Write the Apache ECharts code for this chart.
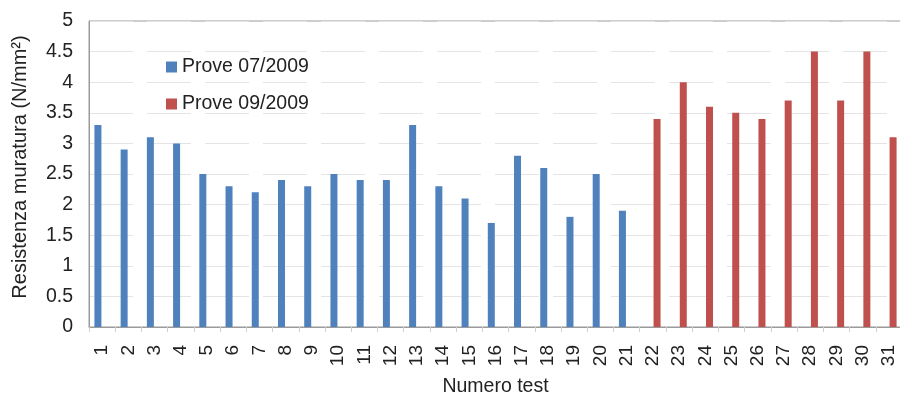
<!DOCTYPE html>
<html><head><meta charset="utf-8">
<script src="https://cdn.jsdelivr.net/npm/echarts@6/dist/echarts.min.js"></script>
<style>html,body{margin:0;padding:0;background:#fff}#c{width:900px;height:394px}</style>
</head><body><div id="c"></div>
<script>
var categories = ['1','2','3','4','5','6','7','8','9','10','11','12','13','14','15','16','17','18','19','20','21','22','23','24','25','26','27','28','29','30','31'];
var prove07 = [3.3,2.9,3.1,3.0,2.5,2.3,2.2,2.4,2.3,2.5,2.4,2.4,3.3,2.3,2.1,1.7,2.8,2.6,1.8,2.5,1.9,null,null,null,null,null,null,null,null,null,null];
var prove09 = [null,null,null,null,null,null,null,null,null,null,null,null,null,null,null,null,null,null,null,null,null,3.4,4.0,3.6,3.5,3.4,3.7,4.5,3.7,4.5,3.1];
var yTicks = {min:0, max:5, interval:0.5};

var chart = echarts.init(document.getElementById('c'));
var font = 'Liberation Sans, Arial, sans-serif';
chart.setOption({
  animation:false,
  grid:{left:89, top:21, width:813, height:306, outerBoundsMode:'none', containLabel:false,
    show:true, borderColor:'#9a9a9a', borderWidth:1, backgroundColor:'transparent'},
  legend:{orient:'vertical', left:161, top:52, itemWidth:11, itemHeight:11, itemGap:17,
    textStyle:{fontFamily:font, fontSize:19.5, color:'#222'},
    data:[{name:'Prove 07/2009', icon:'rect'},{name:'Prove 09/2009', icon:'rect'}]},
  xAxis:{type:'category', data:categories,
    name:'Numero test', nameLocation:'middle', nameGap:50,
    nameTextStyle:{fontFamily:font, fontSize:19.5, color:'#222', verticalAlign:'top'},
    axisLine:{lineStyle:{color:'#9a9a9a'}},
    axisTick:{show:true, length:5, lineStyle:{color:'#cfcfcf'}},
    axisLabel:{rotate:90, margin:18, fontFamily:font, fontSize:19, color:'#222'}},
  yAxis:{type:'value', min:yTicks.min, max:yTicks.max, interval:yTicks.interval,
    name:'Resistenza muratura (N/mm²)', nameLocation:'middle', nameGap:59,
    nameTextStyle:{fontFamily:font, fontSize:20, color:'#222', padding:[0,0,0,14]},
    axisLine:{show:true, lineStyle:{color:'#9a9a9a'}},
    axisTick:{show:false},
    axisLabel:{margin:16, fontFamily:font, fontSize:19.5, color:'#222'},
    splitLine:{lineStyle:{color:'#e4e4e4', type:[44,14]}}},
  series:[
    {name:'Prove 07/2009', type:'bar', data:prove07, barWidth:7, barGap:'20%', itemStyle:{color:'#4F81BD'}},
    {name:'Prove 09/2009', type:'bar', data:prove09, barWidth:7, barGap:'20%', itemStyle:{color:'#C0504D'}}
  ]
});
</script></body></html>
